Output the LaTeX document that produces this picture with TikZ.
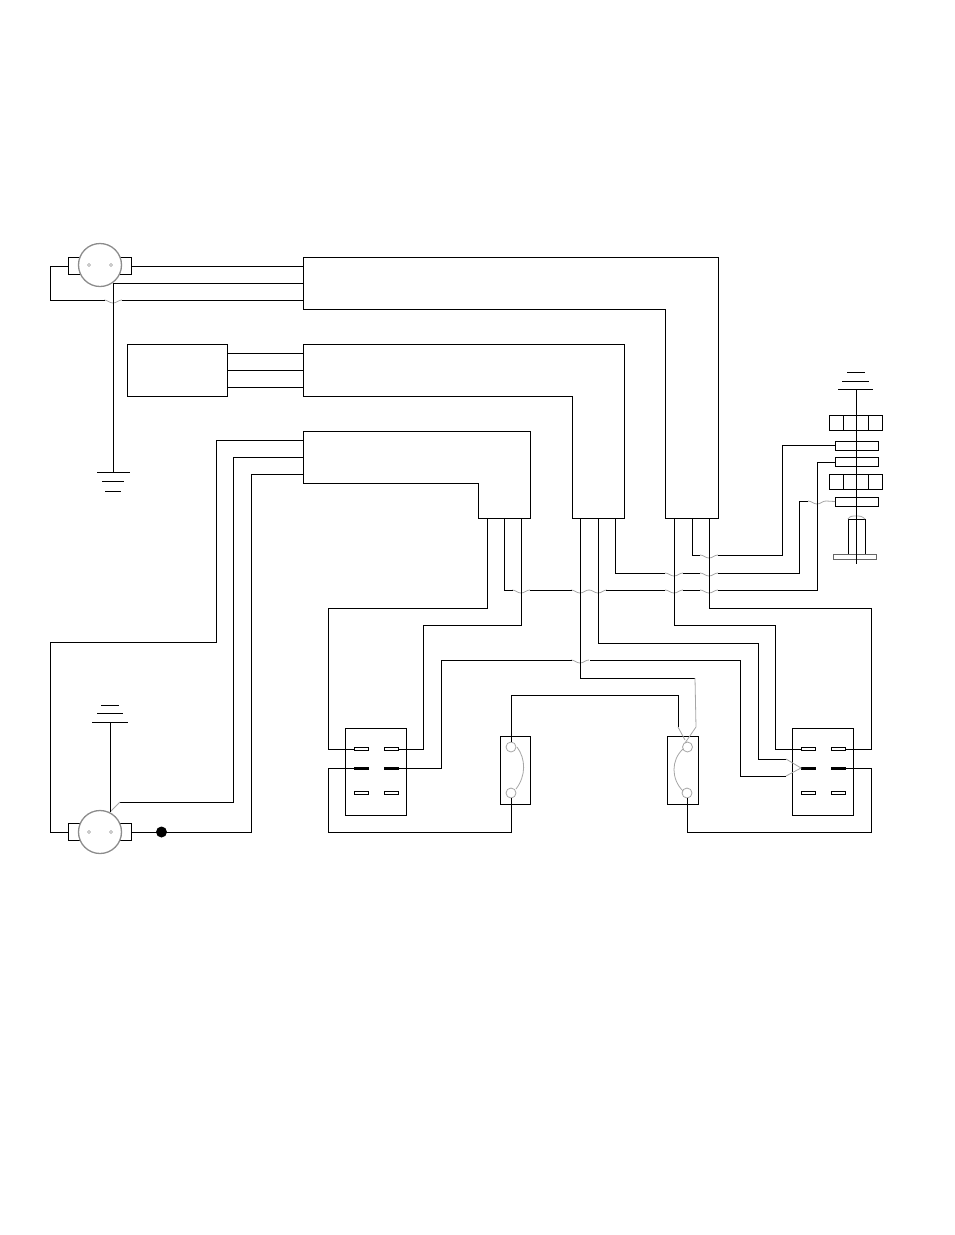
\documentclass[tikz,border=0pt]{standalone}
\usetikzlibrary{positioning}

\begin{document}
\begin{tikzpicture}[
  x=1pt, y=-1pt,
  line width=1pt,
  wire/.style={draw=black, line join=miter},
  hop/.style={draw=black!35, line width=0.8pt},
  box/.style={draw, fill=white, rectangle, inner sep=0pt, outer sep=0pt},
  blade/.style={box, minimum width=14pt, minimum height=2.5pt, line width=0.8pt},
  hotblade/.style={box, fill=black, minimum width=14pt, minimum height=2pt},
  rocker/.style={box, minimum width=61.5pt, minimum height=87pt},
  breaker/.style={box, minimum width=30.5pt, minimum height=68pt},
  lug/.style={box, minimum width=63pt, minimum height=17pt},
  motor/.style={draw=black!45, fill=white, circle, line width=1.3pt, inner sep=0pt, outer sep=0pt, minimum size=43pt},
  pin/.style={draw=black!40, fill=white, circle, line width=0.5pt, inner sep=0pt, minimum size=3pt},
  post/.style={draw=black!35, circle, line width=0.8pt, inner sep=0pt, outer sep=0pt, minimum size=10pt},
  strip/.style={box, minimum width=43pt, minimum height=9pt},
  block/.style={box, minimum width=53.5pt, minimum height=15pt},
]
\useasboundingbox (0,0) rectangle (954,1235);

% Cable hops, wires pass over them
\foreach \hx/\hy in {113/300, 521/590, 580/590, 598/590, 674/590, 709/590,
                     674/573, 709/573, 709/555, 580/660, 817/501}
  \draw[hop] (\hx-9,\hy) .. controls (\hx-5,\hy) and (\hx-4,\hy+3) .. (\hx,\hy+3)
             .. controls (\hx+4,\hy+3) and (\hx+5,\hy) .. (\hx+9,\hy);

% Top motor
\node[lug] (motorAcase) at (99.5,265.5) {};
\node[motor] (motorA) at (100,265) {};
\node[pin] (motorApinl) at (89,265) {};
\node[pin] (motorApinr) at (111,265) {};

% Bottom motor
\node[lug] (motorBcase) at (99.5,832) {};
\node[motor] (motorB) at (100,832) {};
\node[pin] (motorBpinl) at (89,832) {};
\node[pin] (motorBpinr) at (111,832) {};

% Cable harnesses
\draw (303,257) coordinate (harnA) -- (718,257) -- (718,518) -- (665.5,518) -- (665.5,309) -- (303,309) -- cycle;
\draw (303,344) coordinate (harnB) -- (624,344) -- (624,518) -- (572,518) -- (572,396) -- (303,396) -- cycle;
\draw (303,431) coordinate (harnC) -- (530,431) -- (530,518) -- (478,518) -- (478,483) -- (303,483) -- cycle;

% Control box
\node[box, minimum width=100pt, minimum height=52pt] (ctrl) at (177,370) {};

% Harness ports
\foreach \n/\y in {a/266, b/283, c/300} \coordinate (harnA\n) at (303,\y);
\foreach \n/\y in {a/353, b/370, c/387} \coordinate (harnB\n) at (303,\y);
\foreach \n/\y in {a/440, b/457, c/474} \coordinate (harnC\n) at (303,\y);
\foreach \n/\x in {a/674.5, b/692, c/709} \coordinate (portA\n) at (\x,518);
\foreach \n/\x in {a/580, b/598, c/615} \coordinate (portB\n) at (\x,518);
\foreach \n/\x in {a/487, b/504, c/521} \coordinate (portC\n) at (\x,518);

% Rocker switches
\node[rocker] (rockL) at (376,771.5) {};
\node[rocker] (rockR) at (823,771.5) {};
\foreach \s/\xa/\xb in {L/361/391, R/808/838.5} {
  \node[blade] (rock\s a) at (\xa,749) {};
  \node[blade] (rock\s b) at (\xb,749) {};
  \node[hotblade] (rock\s c) at (\xa,768) {};
  \node[hotblade] (rock\s d) at (\xb,768) {};
  \node[blade] (rock\s e) at (\xa,793) {};
  \node[blade] (rock\s f) at (\xb,793) {};
}

% Breakers
\node[breaker] (brkL) at (515.5,770) {};
\node[breaker] (brkR) at (683,770) {};
\node[post] (brkLa) at (511,747) {};
\node[post] (brkLb) at (511,793) {};
\node[post] (brkRa) at (687.5,747) {};
\node[post] (brkRb) at (687,793) {};
\draw[hop] (517,747) .. controls (526,759) and (526,776) .. (516,789);
\draw[hop] (683,749) .. controls (671,760) and (671,779) .. (683,791);

% Right hand stack
\node[block] (stackA) at (856,422.5) {};
\node[block] (stackB) at (856,481.5) {};
\foreach \x in {843, 868} {
  \draw (\x,415) -- (\x,430);
  \draw (\x,474) -- (\x,489);
}
\node[strip] (tapA) at (856.5,445.5) {};
\node[strip] (tapB) at (856.5,462) {};
\node[strip] (tapC) at (856.5,501.5) {};
\node[box, minimum width=17pt, minimum height=35pt] (stud) at (856.5,536.5) {};
\node[box, draw=black!60, line width=0.7pt, minimum width=43pt, minimum height=5pt] (base) at (854.5,556.5) {};
\draw[hop] (848,519) .. controls (850,516) and (852,516) .. (856,516) .. controls (860,516) and (862,516) .. (865,519);
\coordinate (stackend) at (856,564);

% Grounds
\draw (97,472) coordinate (gndA) -- (130,472);
\draw (102,481) -- (124,481);
\draw (105,491) -- (121,491);
\draw (92,722) coordinate (gndB) -- (128,722);
\draw (97,713) -- (123,713);
\draw (101,705) -- (119,705);
\draw (838,389) coordinate (gndC) -- (873,389);
\draw (842,381) -- (869,381);
\draw (847,372) -- (865,372);
\draw (856,389) -- (stackend);

% Top motor wiring
\draw[wire] (motorAcase.east |- harnAa) -- (harnAa);
\draw[wire] (68,266) -- (50,266) -- (50,300) -- (105,300) (122,300) -- (harnAc);
\draw[wire] (harnAb) -- (113,283) -- (113,472);

% Control box wiring
\foreach \n in {a, b, c}
  \draw[wire] (ctrl.east |- harnB\n) -- (harnB\n);

% Bottom motor wiring
\draw[wire] (harnCa) -- (216,440) -- (216,642) -- (50,642) -- (50,832) -- (motorBcase.west);
\draw[wire] (harnCb) -- (233,457) -- (233,802) -- (120,802);
\draw[hop] (120,802) -- (110,812);
\draw[wire] (110,812) -- (110,722);
\draw[wire] (harnCc) -- (251,474) -- (251,832) -- (motorBcase.east);
\node[circle, fill=black, inner sep=0pt, minimum size=11pt] (joint) at (161.5,832) {};

% Wires out of the lower harness
\draw[wire] (portCa) -- (487,608) -- (328,608) -- (328,749) -- (rockLa.west);
\draw[wire] (portCc) -- (521,625) -- (423,625) -- (423,749) -- (rockLb.east);
\draw[wire] (portCb) -- (504,590) -- (513,590) (530,590) -- (572,590) (606,590) -- (665,590)
  (683,590) -- (700,590) (718,590) -- (817,590) -- (817,462) -- (tapB.west);

% Wires out of the middle harness
\draw[wire] (portBa) -- (580,678) -- (695,678);
\draw[hop] (695,678) -- (696,727) -- (685,743);
\draw[wire] (portBb) -- (598,643) -- (758,643) -- (758,759) -- (786,759);
\draw[hop] (786,759) -- (801,768) -- (786,776);
\draw[wire] (portBc) -- (615,573) -- (665,573) (683,573) -- (700,573) (718,573) -- (799,573)
  -- (799,501) -- (808,501);
\draw[hop] (826,501) -- (tapC.west);

% Wires out of the top harness
\draw[wire] (portAa) -- (674.5,625) -- (775,625) -- (775,749) -- (rockRa.west);
\draw[wire] (portAb) -- (692,555) -- (700,555) (718,555) -- (782,555) -- (782,445.5) -- (tapA.west);
\draw[wire] (portAc) -- (709,608) -- (871,608) -- (871,749) -- (rockRb.east);

% Remaining links between switches and breakers
\draw[wire] (rockLd.east) -- (441,768) -- (441,660) -- (572,660) (590,660) -- (740,660) -- (740,776) -- (786,776);
\draw[wire] (brkLa.north) -- (511,695) -- (678,695) -- (678,727);
\draw[hop] (678,727) -- (685,740);
\draw[wire] (brkLb.south) -- (511,832) -- (328,832) -- (328,768) -- (rockLc.west);
\draw[wire] (brkRb.south) -- (687,832) -- (871,832) -- (871,768) -- (rockRd.east);

\end{tikzpicture}
\end{document}
